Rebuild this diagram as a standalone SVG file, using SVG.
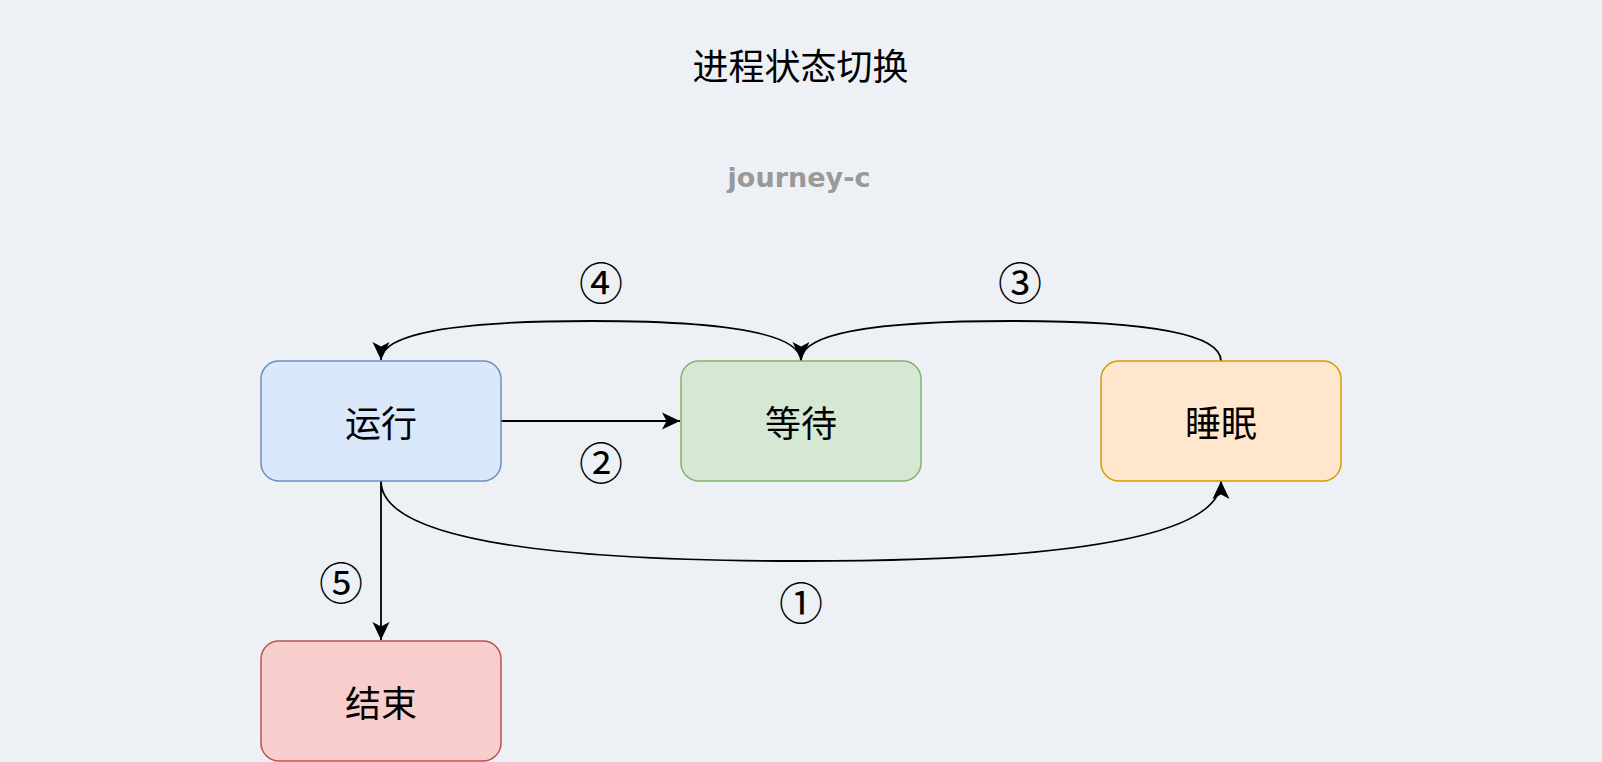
<svg xmlns="http://www.w3.org/2000/svg" width="1602" height="762" viewBox="0 0 1602 762">
  <defs>
    <style>
      .node rect { stroke-width: 1.5; }
      .label { font-family: "Noto Sans CJK SC", "Noto Sans", sans-serif; font-size: 36px; fill: #000000; text-anchor: middle; dominant-baseline: central; }
      .num { font-family: "Noto Sans CJK SC", "Noto Sans", sans-serif; font-size: 44px; fill: #000000; text-anchor: middle; dominant-baseline: central; }
      .edge { fill: none; stroke: #000000; stroke-width: 1.8; }
      .arrow { marker-end: url(#arr); }
    </style>
    <marker id="arr" markerWidth="20" markerHeight="20" refX="18" refY="8.5" orient="auto" markerUnits="userSpaceOnUse" overflow="visible">
      <path d="M0,0 L18,8.5 L0,17 L4.5,8.5 Z" fill="#000000" stroke="none"/>
    </marker>
  </defs>

  <rect x="0" y="0" width="1602" height="762" fill="#edf1f5"/>

  <g id="title">
    <text class="label" x="800.5" y="64">进程状态切换</text>
  </g>
  <g id="watermark">
    <text x="799" y="187" font-family="DejaVu Sans, sans-serif" font-size="27" font-weight="bold" fill="#999999" text-anchor="middle" textLength="143" lengthAdjust="spacing">journey-c</text>
  </g>

  <g id="connectors">
    <path id="edge1" class="edge arrow" d="M381,481 Q381,561 801,561 Q1221,561 1221,481"/>
    <path id="edge2" class="edge arrow" d="M501,421 L680,421"/>
    <path id="edge3" class="edge arrow" d="M1221,361 Q1221,321 1011,321 Q801,321 801,360"/>
    <path id="edge4" class="edge arrow" d="M801,361 Q801,321 591,321 Q381,321 381,360"/>
    <path id="edge5" class="edge arrow" d="M381,481 L381,640"/>
  </g>

  <g id="edge-labels">
    <text class="num" x="801" y="601">①</text>
    <text class="num" x="601" y="461">②</text>
    <text class="num" x="1020" y="281">③</text>
    <text class="num" x="601" y="281">④</text>
    <text class="num" x="341" y="581">⑤</text>
  </g>

  <g id="node-running" class="node">
    <rect x="261" y="361" width="240" height="120" rx="18" ry="18" fill="#dae8fc" stroke="#6c8ebf"/>
    <text class="label" x="381" y="421">运行</text>
  </g>
  <g id="node-waiting" class="node">
    <rect x="681" y="361" width="240" height="120" rx="18" ry="18" fill="#d5e8d4" stroke="#82b366"/>
    <text class="label" x="801" y="421">等待</text>
  </g>
  <g id="node-sleeping" class="node">
    <rect x="1101" y="361" width="240" height="120" rx="18" ry="18" fill="#ffe6cc" stroke="#d79b00"/>
    <text class="label" x="1221" y="421">睡眠</text>
  </g>
  <g id="node-end" class="node">
    <rect x="261" y="641" width="240" height="120" rx="18" ry="18" fill="#f8cecc" stroke="#b85450"/>
    <text class="label" x="381" y="701">结束</text>
  </g>
</svg>
